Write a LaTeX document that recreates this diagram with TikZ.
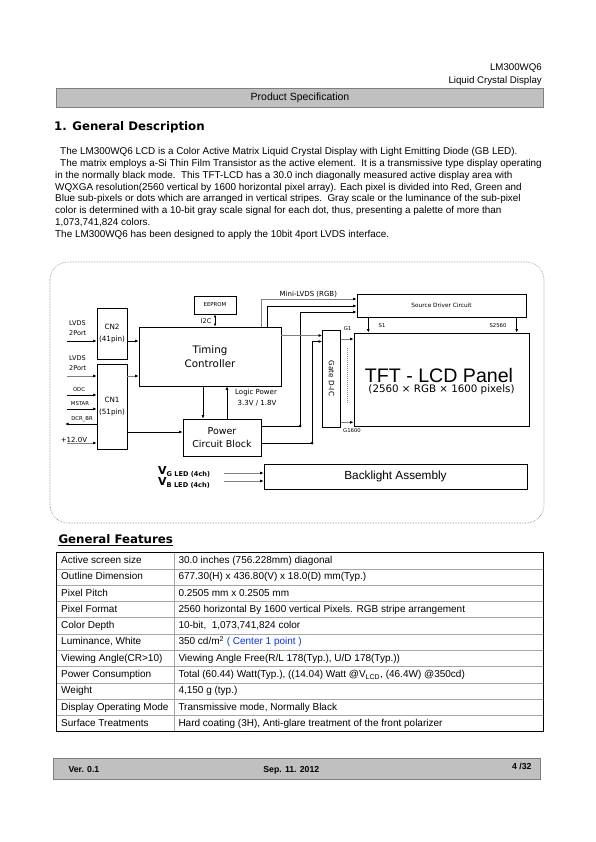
\documentclass[tikz,border=0pt]{standalone}
\usepackage{fontspec}
\setmainfont{Liberation Sans}
\newfontfamily\dvs{DejaVu Sans}
\usepackage{xcolor}
\usetikzlibrary{arrows.meta,positioning,calc}
\definecolor{barfill}{HTML}{C0C0C0}
\definecolor{barline}{HTML}{7F7F7F}
\definecolor{wire}{HTML}{808080}
\definecolor{linkblue}{HTML}{0033FF}
\newcommand{\fsz}[1]{\fontsize{#1}{1.2\dimexpr #1pt\relax}\selectfont}
\newcommand{\fszl}[2]{\fontsize{#1}{#2}\selectfont}

\begin{document}
\begin{tikzpicture}[x=1pt, y=-1pt,
    box/.style={rectangle, draw, fill=white, inner sep=0pt, line width=0.8pt},
    bar/.style={rectangle, draw=barline, fill=barfill, line width=1pt, inner sep=0pt},
    arr/.style={-{Latex[length=3.5pt,width=3pt,color=black]}, line width=0.7pt},
    thk/.style={line width=2pt, draw=wire},
    lbl/.style={inner sep=0pt, font=\dvs\fsz{5.3}},
    para/.style={anchor=mid west, inner sep=0pt, font=\fsz{9.9}},
    cell/.style={anchor=mid west, inner sep=0pt, font=\fsz{10}},
    jdot/.style={circle, fill, inner sep=0pt, minimum size=3pt}
]
\useasboundingbox (0,0) rectangle (595,842);
\fill[white] (0,0) rectangle (595,842);

% page header
\node[anchor=mid east, inner sep=0pt, font=\fsz{9.7}] (model) at (542,68.3) {LM300WQ6};
\node[anchor=mid east, inner sep=0pt, font=\fsz{9.7}] (kind) at (542,80.7) {Liquid Crystal Display};
\node[bar, minimum width=486.6, minimum height=19, font=\fsz{10.5}] (spec) at (300,97.8) {Product Specification};

% 1. General Description
\node[anchor=mid west, inner sep=0pt, font=\dvs\bfseries\fsz{11.8}] (sec) at (54,128.3) {1. General Description};
\node[para] (p1) at (60,151.7) {The LM300WQ6 LCD is a Color Active Matrix Liquid Crystal Display with Light Emitting Diode (GB LED).};
\node[para] (p2) at (60,164) {The matrix employs a-Si Thin Film Transistor as the active element.\ \ It is a transmissive type display operating};
\node[para] (p3) at (55,176) {in the normally black mode.\ \ This TFT-LCD has a 30.0 inch diagonally measured active display area with};
\node[para] (p4) at (55,187.5) {WQXGA resolution(2560 vertical by 1600 horizontal pixel array). Each pixel is divided into Red, Green and};
\node[para] (p5) at (55,199.3) {Blue sub-pixels or dots which are arranged in vertical stripes.\ \ Gray scale or the luminance of the sub-pixel};
\node[para] (p6) at (55,211) {color is determined with a 10-bit gray scale signal for each dot, thus, presenting a palette of more than};
\node[para] (p7) at (55,222.5) {1,073,741,824 colors.};
\node[para] (p8) at (55,235) {The LM300WQ6 has been designed to apply the 10bit 4port LVDS interface.};

% block diagram
\draw[wire, densely dotted, line width=0.6pt, rounded corners=18pt] (50,262) rectangle (544,523);

\node[box, minimum width=30, minimum height=51, font=\dvs\fszl{7.2}{12}, align=center] (cn2) at (112,333.5) {CN2\\(41pin)};
\node[box, minimum width=30, minimum height=85, font=\dvs\fszl{7.2}{12}, align=center] (cn1) at (112,406.5) {CN1\\(51pin)};
\node[box, minimum width=142, minimum height=59, font=\dvs\fszl{10.3}{14}, align=center] (tc) at (210,356.5) {Timing\\Controller};
\node[box, minimum width=42, minimum height=18, font=\dvs\fsz{5.4}] (eeprom) at (215,305) {EEPROM};
\node[box, minimum width=78, minimum height=37, font=\dvs\fszl{9.5}{12.7}, align=center] (pwr) at (222,437.5) {Power\\Circuit Block};
\node[box, minimum width=169, minimum height=23, font=\dvs\fsz{5.8}] (src) at (441.5,305.5) {Source Driver Circuit};
\node[box, minimum width=175, minimum height=93] (panel) at (441.5,379.5) {};
\node[inner sep=0pt, font=\fsz{19.6}] (ptitle) at (439,375) {TFT - LCD Panel};
\node[inner sep=0pt, font=\dvs\fsz{10.3}] (psub) at (441.5,390) {(2560 × RGB × 1600 pixels)};
\node[box, minimum width=18, minimum height=97] (gate) at (331.5,378.5) {};
\node[inner sep=0pt, rotate=-90, font=\dvs\fsz{7.3}] (gtext) at (gate.center) {Gate D-IC};
\node[box, minimum width=263, minimum height=25, font=\fsz{11.8}] (blu) at (395.5,476.5) {Backlight Assembly};

% inputs on the left
\coordinate (in1) at (67,341);
\coordinate (in2) at (67,376);
\coordinate (in3) at (67,395);
\coordinate (in4) at (67,409);
\coordinate (out5) at (65,424);
\coordinate (in6) at (67,443);
\draw[arr] (in1) -- (in1 -| cn2.west);
\draw[thk,arr] (in2) -- (in2 -| cn1.west);
\draw[arr] (in3) -- (in3 -| cn1.west);
\draw[arr] (in4) -- (in4 -| cn1.west);
\draw[arr] (out5 -| cn1.west) -- (out5);
\draw[thk,arr] (in6) -- (in6 -| cn1.west);
\node[inner sep=0pt, anchor=west, align=left, font=\dvs\fszl{6.5}{9.8}] (lv1) at (69,328) {LVDS\\2Port};
\node[inner sep=0pt, anchor=west, align=left, font=\dvs\fszl{6.5}{9.8}] (lv2) at (69,363) {LVDS\\2Port};
\node[lbl] (odc) at (79,390) {ODC};
\node[lbl] (mstar) at (80,404) {MSTAR};
\node[lbl] (dcr) at (82,418.7) {DCR\_BR};
\node[inner sep=0pt, font=\dvs\fsz{7}] (v12) at (74,440) {+12.0V};

% connectors to the timing controller and power block
\coordinate (cp) at (0,432);
\draw[arr] (cn2.east |- in1) -- (tc.west |- in1);
\draw[thk,arr] (cn1.east |- in2) -- (tc.west |- in2);
\draw[arr] (cn1.east |- cp) -- (pwr.west |- cp);
\draw[{Latex[length=3pt,width=2.6pt]}-{Latex[length=3pt,width=2.6pt]}, line width=0.7pt] (eeprom.south) -- (eeprom.south |- tc.north);
\node[inner sep=0pt, font=\dvs\fsz{6.5}] (i2c) at (206,321) {I2C};
\coordinate (dn) at (203,0);
\coordinate (up) at (227,0);
\draw[arr] (tc.south -| dn) -- (pwr.north -| dn);
\draw[arr] (pwr.north -| up) -- (tc.south -| up);
\node[inner sep=0pt, anchor=mid west, font=\dvs\fsz{7}] (lp) at (235,391.7) {Logic Power};
\node[inner sep=0pt, anchor=mid west, font=\dvs\fsz{7}] (lpv) at (237.5,403.3) {3.3V / 1.8V};

% mini-LVDS and power to the drivers
\coordinate (m1) at (261,299);
\coordinate (m2) at (267,306);
\coordinate (m3) at (300,312);
\coordinate (j1) at (300,426);
\coordinate (m4) at (312,341.5);
\coordinate (j2) at (312,443);
\coordinate (tg) at (0,335.5);
\draw[thk,arr] (tc.north -| m1) -- (m1) -- (src.west |- m1);
\draw[arr] (tc.north -| m2) -- (m2) -- (src.west |- m2);
\node[inner sep=0pt, font=\dvs\fsz{7}] (mlvds) at (308.3,294) {Mini-LVDS (RGB)};
\draw[arr] (pwr.east |- j1) -- (j1) -- (m3) -- (src.west |- m3);
\draw[arr] (pwr.east |- j2) -- (j2) -- (m4) -- (gate.west |- m4);
\node[jdot] (d1) at (j1) {};
\node[jdot] (d2) at (j2) {};
\draw[thk,arr] (tc.east |- tg) -- (gate.west |- tg);

% gate and source lines into the panel
\coordinate (g1) at (0,339);
\coordinate (g2) at (0,422.3);
\coordinate (dtop) at (347.7,348);
\coordinate (dbot) at (347.7,403);
\draw[thk,arr] (gate.east |- g1) -- (panel.west |- g1);
\draw[thk,arr] (gate.east |- g2) -- (panel.west |- g2);
\draw[wire, densely dotted, line width=1pt] (dtop) -- (dbot);
\node[lbl] (g1l) at (347.5,329) {G1};
\node[lbl] (g2l) at (352,431) {G1600};
\coordinate (s1) at (368.3,0);
\coordinate (s2) at (516.7,0);
\draw[arr] (src.south -| s1) -- (panel.north -| s1);
\draw[arr] (src.south -| s2) -- (panel.north -| s2);
\node[lbl] (s1l) at (382,325.7) {S1};
\node[lbl] (s2l) at (498,325.7) {S2560};

% backlight supply
\node[inner sep=0pt, anchor=mid west, font=\dvs\bfseries\fsz{11}] (vg) at (158,471.5) {V\raisebox{-2pt}{\fsz{6.6}G LED (4ch)}};
\node[inner sep=0pt, anchor=mid west, font=\dvs\bfseries\fsz{11}] (vb) at (158,482.5) {V\raisebox{-2pt}{\fsz{6.6}B LED (4ch)}};
\coordinate (vg0) at (224,473);
\coordinate (vb0) at (224,481);
\draw[thk,line width=1.5pt,arr] (vg0) -- (blu.west |- vg0);
\draw[thk,line width=1.5pt,arr] (vb0) -- (blu.west |- vb0);

% General Features
\node[anchor=base west, inner sep=0pt, font=\dvs\bfseries\fsz{11.8}] (gf) at (58.3,543.5) {General Features};
\draw[line width=0.8pt] ($(gf.base west)+(0,2)$) -- ($(gf.base east)+(0,2)$);
\foreach \i in {1,...,10}
  \draw[gray!70, line width=0.6pt] (56.7,{552.5+\i*16.3}) -- (543.3,{552.5+\i*16.3});
\draw[gray!70, line width=0.6pt] (174.3,552.5) -- (174.3,731.8);
\draw[line width=1.2pt] (56.7,552.5) rectangle (543.3,731.8);
\foreach \r/\a/\b in {
  0/{Active screen size}/{30.0 inches (756.228mm) diagonal},
  1/{Outline Dimension}/{677.30(H) x 436.80(V) x 18.0(D) mm(Typ.)},
  2/{Pixel Pitch}/{0.2505 mm x 0.2505 mm},
  3/{Pixel Format}/{2560 horizontal By 1600 vertical Pixels. RGB stripe arrangement},
  4/{Color Depth}/{10-bit,\ \ 1,073,741,824 color},
  5/{Luminance, White}/{350 cd/m\textsuperscript{2} \textcolor{linkblue}{( Center 1 point )}},
  6/{Viewing Angle(CR>10)}/{Viewing Angle Free(R/L 178(Typ.), U/D 178(Typ.))},
  7/{Power Consumption}/{Total (60.44) Watt(Typ.), ((14.04) Watt @V\textsubscript{LCD}, (46.4W) @350cd)},
  8/{Weight}/{4,150 g (typ.)},
  9/{Display Operating Mode}/{Transmissive mode, Normally Black},
  10/{Surface Treatments}/{Hard coating (3H), Anti-glare treatment of the front polarizer}}
{
  \node[cell] (key\r) at (61,{560.8+\r*16.3}) {\a};
  \node[cell] (val\r) at (178.3,{560.8+\r*16.3}) {\b};
}

% page footer
\node[bar, minimum width=487.4, minimum height=21] (foot) at (297,768.8) {};
\node[anchor=mid west, inner sep=0pt, font=\bfseries\fsz{8.7}] (ver) at (68.3,770) {Ver. 0.1};
\node[inner sep=0pt, font=\bfseries\fsz{8.7}] (date) at (291.3,770) {Sep. 11. 2012};
\node[anchor=mid east, inner sep=0pt, font=\bfseries\fsz{8.7}] (page) at (531.7,766.7) {4 /32};
\end{tikzpicture}
\end{document}
